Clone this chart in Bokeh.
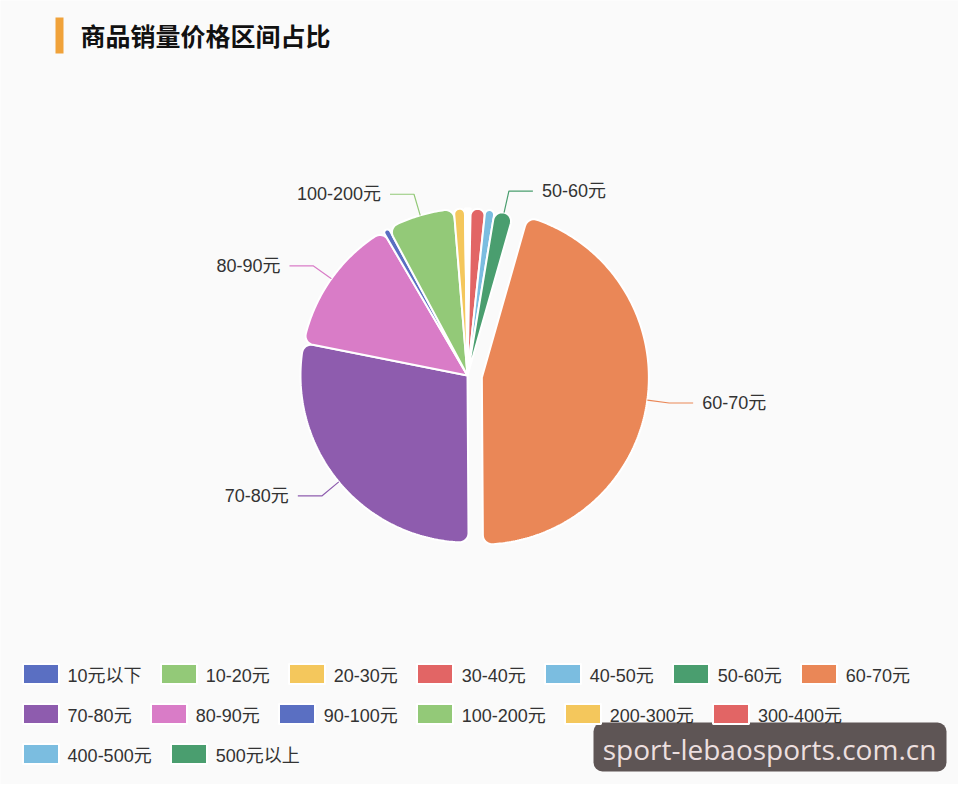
import numpy as np
from bokeh.plotting import figure
from bokeh.models import Range1d, Legend, LegendItem, Label, BoxAnnotation, ColumnDataSource
from bokeh.embed import file_html
from bokeh.resources import INLINE
from bokeh.core.properties import value

# ---------------- data ----------------
title_text = "商品销量价格区间占比"
categories = ["10元以下", "10-20元", "20-30元", "30-40元", "40-50元", "50-60元", "60-70元",
              "70-80元", "80-90元", "90-100元", "100-200元", "200-300元", "300-400元",
              "400-500元", "500元以上"]
shares = [0.05, 0.15, 0.1, 1.4, 0.9, 1.8, 45.3, 28.1, 13.4, 0.6, 6.5, 1.05, 0.1, 0.05, 0.1]
colors = ["#5a6fc2", "#93c978", "#f4c75c", "#e26565", "#7bbde0", "#4a9e6f", "#ea8757",
          "#8e5cae", "#d97cc7", "#5a6fc2", "#93c978", "#f4c75c", "#e26565", "#7bbde0", "#4a9e6f"]
selected = "60-70元"
label_min_share = 0.015
watermark = "sport-lebaosports.com.cn"

# ---------------- layout ----------------
W, H = 958, 784
FONT = "Liberation Sans, Noto Sans CJK SC"
BG = "#fafafa"

p = figure(width=W, height=H, output_backend="svg", toolbar_location=None,
           x_range=Range1d(0, W), y_range=Range1d(800 - H, 800),
           x_axis_location=None, y_axis_location=None, min_border=0)
p.grid.visible = False
p.outline_line_color = None
p.background_fill_color = BG
p.border_fill_color = BG

# pie geometry (data units == pixels; y up = 800 - screen y)
cx, cy, R = 467, 425, 167
sel_offset = 14.5
corner = 9
L1, L2, gap = 22, 24, 9

vals = np.array(shares, dtype=float)
frac = vals / vals.sum()
th_end = np.cumsum(frac) * 2 * np.pi
th_start = th_end - frac * 2 * np.pi
mid = (th_start + th_end) / 2
is_sel = np.array([c == selected for c in categories])
ox = cx + np.where(is_sel, sel_offset * np.sin(mid), 0.0)
oy = cy + np.where(is_sel, sel_offset * np.cos(mid), 0.0)


def pt(x0, y0, t, r):
    return x0 + r * np.sin(t), y0 + r * np.cos(t)


def corner_arc(c, a, b, rc, n=8):
    ang1 = np.arctan2(a[1] - c[1], a[0] - c[0])
    ang2 = np.arctan2(b[1] - c[1], b[0] - c[0])
    d = (ang2 - ang1 + np.pi) % (2 * np.pi) - np.pi
    k = np.linspace(0, 1, n)
    return list(c[0] + rc * np.cos(ang1 + d * k)), list(c[1] + rc * np.sin(ang1 + d * k))


def slice_path(x0, y0, t0, t1):
    w = t1 - t0
    s = np.sin(w / 2)
    rc = min(corner, R * s / (1 + s))
    phi = np.arcsin(rc / (R - rc))
    xs, ys = [x0], [y0]
    c = pt(x0, y0, t0 + phi, R - rc)
    a = pt(x0, y0, t0, (R - rc) * np.cos(phi))
    b = pt(x0, y0, t0 + phi, R)
    ax, ay = corner_arc(c, a, b, rc)
    xs += ax; ys += ay
    ts = np.linspace(t0 + phi, t1 - phi, max(2, int((w - 2 * phi) * 80) + 2))
    xs += list(x0 + R * np.sin(ts)); ys += list(y0 + R * np.cos(ts))
    c = pt(x0, y0, t1 - phi, R - rc)
    a = pt(x0, y0, t1 - phi, R)
    b = pt(x0, y0, t1, (R - rc) * np.cos(phi))
    ax, ay = corner_arc(c, a, b, rc)
    xs += ax; ys += ay
    return xs, ys


paths = [slice_path(x0, y0, a, b) for x0, y0, a, b in zip(ox, oy, th_start, th_end)]
src = ColumnDataSource(dict(xs=[q[0] for q in paths], ys=[q[1] for q in paths],
                            color=colors, cat=categories))
wr = p.patches(xs="xs", ys="ys", fill_color="color", line_color="white", line_width=2,
               source=src)

# labels with leader lines
show = frac >= label_min_share
sx, sy = np.sin(mid[show]), np.cos(mid[show])
ex, ey = ox[show] + R * sx, oy[show] + R * sy
bx, by = ox[show] + (R + L1) * sx, oy[show] + (R + L1) * sy
side = np.where(sx >= 0, 1.0, -1.0)
hx = bx + side * L2
p.multi_line(xs=[[a, b, c] for a, b, c in zip(ex, bx, hx)],
             ys=[[a, b, b] for a, b in zip(ey, by)],
             line_color=[c for c, s in zip(colors, show) if s], line_width=1.2)
p.text(x=hx + side * gap, y=by,
       text=[c for c, s in zip(categories, show) if s],
       text_align=["left" if s > 0 else "right" for s in side],
       text_baseline="middle", text_font=value(FONT), text_font_size="18px",
       text_color="#333333")

# legends (three rows, like the wrapped original)
rows = [(0, 7), (7, 13), (13, 15)]
row_locs = [(17.6, 97.5), (17.6, 57.5), (17.6, 17.5)]
for (a, b), loc in zip(rows, row_locs):
    items = [LegendItem(label=categories[i], renderers=[wr], index=i) for i in range(a, b)]
    lg = Legend(items=items, orientation="horizontal", location=loc,
                glyph_width=45, glyph_height=25, label_standoff=5, spacing=14,
                padding=0, margin=0, label_height=25,
                label_text_font=FONT, label_text_font_size="18px",
                label_text_color="#333333", border_line_color=None,
                background_fill_alpha=0)
    p.add_layout(lg)

# title with accent bar
p.add_layout(BoxAnnotation(left=55, right=63, top=800 - 17, bottom=800 - 53,
                           fill_color="#f0a23a", fill_alpha=1, line_color=None))
p.add_layout(Label(x=80, y=800 - 36, text=title_text, text_font=FONT,
                   text_font_size="25px", text_font_style="bold", text_color="#111111",
                   text_baseline="middle"))

# watermark
p.add_layout(BoxAnnotation(left=593, right=946, top=800 - 722, bottom=800 - 771,
                           fill_color="#5e5555", fill_alpha=1, line_color=None,
                           border_radius=9))
p.add_layout(Label(x=769, y=800 - 748, text=watermark, text_font="Open Sans",
                   text_font_size="28px", text_color="#ecdfdf", text_align="center",
                   text_baseline="middle"))

open("out.html", "w").write(file_html(p, INLINE))
